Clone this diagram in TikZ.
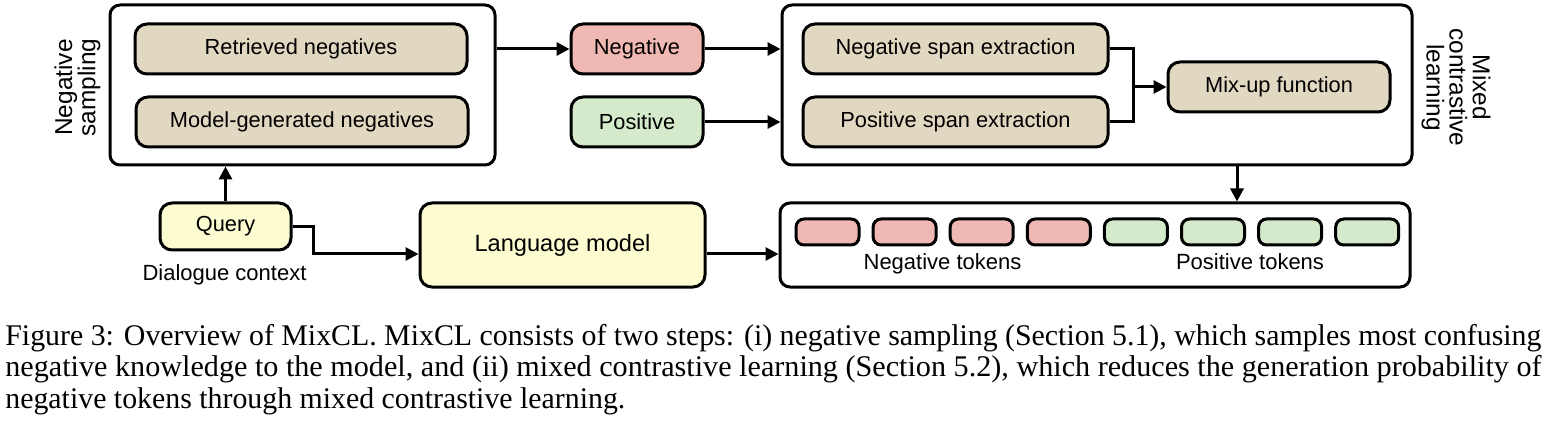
\documentclass[tikz,border=0pt]{standalone}
\usepackage{fontspec}
\usepackage{graphicx}
\setmainfont{Liberation Sans}
\newfontfamily\capfont{Liberation Serif}
\usetikzlibrary{arrows.meta,calc}
\definecolor{tanfill}{RGB}{225,216,194}
\definecolor{negfill}{RGB}{240,184,178}
\definecolor{posfill}{RGB}{212,234,202}
\definecolor{yelfill}{RGB}{252,252,208}
\newlength\capA
\begin{document}
\settowidth\capA{\capfont\fontsize{15}{16}\selectfont Figure 3: Overview of MixCL. MixCL consists of two steps: (i) negative sampling (Section 5.1), which samples most confusing}%
\pgfmathsetmacro\capf{768pt/\capA}%
\begin{tikzpicture}[x=0.5pt,y=-0.5pt,
  box/.style={draw, line width=1.5pt, rounded corners=6pt, inner sep=0pt, font=\fontsize{10.9}{11}\selectfont},
  groupbox/.style={box, rounded corners=5pt},
  tanbox/.style={box, fill=tanfill, minimum height=25pt},
  negbox/.style={box, fill=negfill, minimum height=25pt, minimum width=66pt},
  posbox/.style={box, fill=posfill, minimum height=25pt, minimum width=66pt},
  yelbox/.style={box, fill=yelfill},
  tokneg/.style={box, fill=negfill, minimum height=13pt, minimum width=31.5pt, rounded corners=4pt},
  tokpos/.style={box, fill=posfill, minimum height=13pt, minimum width=31.5pt, rounded corners=4pt},
  lbl/.style={inner sep=0pt, font=\fontsize{11}{11}\selectfont, align=center},
  sidelbl/.style={inner sep=0pt, font=\fontsize{12.2}{11.6}\selectfont, align=center},
  capline/.style={inner sep=0pt, anchor=base west, font=\capfont\fontsize{15}{16}\selectfont},
  conn/.style={line width=1.5pt, -{Triangle[length=6.5pt,width=6.5pt]}},
  plain/.style={line width=1.5pt}
]
\useasboundingbox (0,0) rectangle (1546,422);

% group boxes
\node[groupbox, minimum width=192.5pt, minimum height=80pt] (ns) at (302.5,85) {};
\node[groupbox, minimum width=315pt, minimum height=80pt] (mcl) at (1097,85) {};
\node[groupbox, minimum width=315pt, minimum height=42pt] (tok) at (1095,245) {};

% left group
\node[tanbox, minimum width=166pt] (rn) at (301,49) {Retrieved negatives};
\node[tanbox, minimum width=166pt] (mg) at (302,122) {Model-generated negatives};
\node[sidelbl, rotate=90] (nsl) at (77.5,87.5) {Negative\\sampling};

% middle
\node[negbox] (neg) at (637,49) {Negative};
\node[posbox] (pos) at (637,122) {Positive};

% right group
\node[tanbox, minimum width=152.5pt] (nse) at (955.5,49) {Negative span extraction};
\node[tanbox, minimum width=152.5pt] (pse) at (955.5,122) {Positive span extraction};
\node[tanbox, minimum width=111pt] (mix) at (1279,87) {Mix-up function};
\node[sidelbl, rotate=-90] (mcll) at (1456,87.5) {Mixed\\contrastive\\learning};

% bottom
\node[yelbox, minimum width=65.5pt, minimum height=23.5pt] (query) at (225.5,226.5) {Query};
\node[lbl, anchor=base] (dc) at (224.5,280) {Dialogue context};
\node[yelbox, minimum width=142.5pt, minimum height=42pt, font=\fontsize{11.8}{12}\selectfont] (lm) at (562.5,245) {Language model};

\foreach \i in {0,1,2,3} {
  \node[tokneg] (t\i) at ({827.5+77.1*\i},232) {};
}
\foreach \i in {4,5,6,7} {
  \node[tokpos] (t\i) at ({827.5+77.1*\i},232) {};
}
\node[lbl, anchor=base] (ntl) at (942.5,270) {Negative tokens};
\node[lbl, anchor=base] (ptl) at (1250,270) {Positive tokens};

% connectors
\draw[conn] (query.north) -- (query.north |- ns.south);
\draw[conn] (ns.east |- neg.west) -- (neg.west);
\draw[conn] (neg.east) -- (neg.east -| mcl.west);
\draw[conn] (pos.east) -- (pos.east -| mcl.west);
\coordinate (jn) at ($(nse.east)+(24,0)$);
\draw[plain] (nse.east) -- (jn) -- (jn |- pse.east) -- (pse.east);
\draw[conn] (jn |- mix.west) -- (mix.west);
\coordinate (dn) at (1237,165);
\draw[conn] (dn |- mcl.south) -- (dn |- tok.north);
\coordinate (qa) at ($(query.east)+(21,0)$);
\coordinate (lmin) at ($(lm.west)+(0,9)$);
\coordinate (lmout) at ($(lm.east)+(0,9)$);
\draw[conn] (query.east) -- (qa) -- (qa |- lmin) -- (lmin);
\draw[conn] (lmout) -- (lmout -| tok.west);

% caption
\node[capline] (c1) at (5,345) {\resizebox{768pt}{\height}{Figure 3: Overview of MixCL. MixCL consists of two steps: (i) negative sampling (Section 5.1), which samples most confusing}};
\node[capline] (c2) at (5,376.5) {\resizebox{768pt}{\height}{negative knowledge to the model, and (ii) mixed contrastive learning (Section 5.2), which reduces the generation probability of}};
\node[capline] (c3) at (5,408.5) {\scalebox{\capf}[1]{negative tokens through mixed contrastive learning.}};
\end{tikzpicture}
\end{document}
